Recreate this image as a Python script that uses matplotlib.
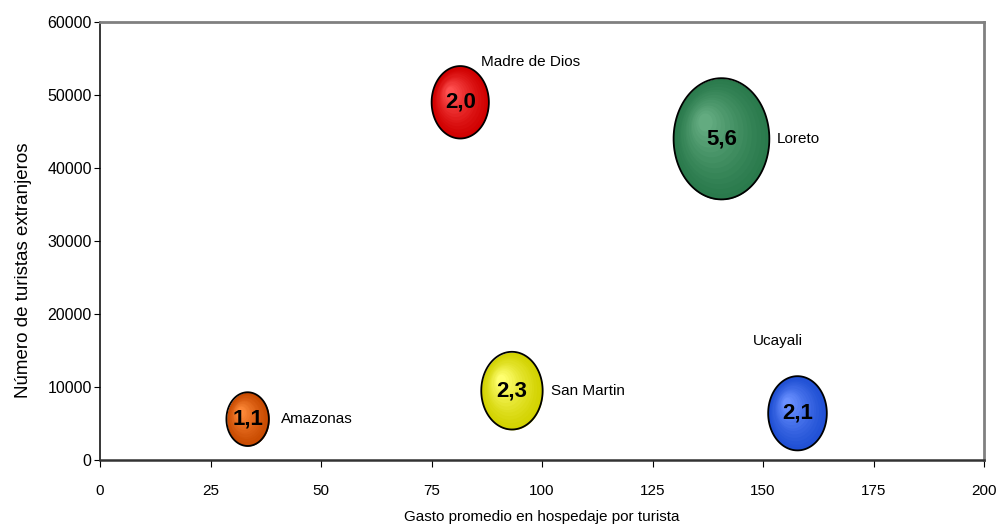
import numpy as np
import matplotlib
matplotlib.use("Agg")
import matplotlib.pyplot as plt
import matplotlib.transforms as mtransforms
from matplotlib.path import Path
from matplotlib.colors import to_rgb

plt.rcParams['font.family'] = ['Liberation Sans', 'DejaVu Sans']

# datos
regiones = ['Amazonas', 'Madre de Dios', 'Loreto', 'San Martin', 'Ucayali']
gasto = [33.4, 81.5, 140.6, 93.2, 157.8]
turistas = [5600, 49000, 44000, 9500, 6400]
indice = [1.1, 2.0, 5.6, 2.3, 2.1]
etiquetas = ['1,1', '2,0', '5,6', '2,3', '2,1']

# estilo
col_oscuro = ['#c84a00', '#d00000', '#2a7a4c', '#d2d200', '#2050d4']
col_claro = ['#ff8a3a', '#ff5050', '#63ab80', '#ffff70', '#6a90ff']
offs_etiq = [(24, 0), (15, 29), (40, 0), (28, 0), (-32, 52)]

# marcador eliptico (las burbujas salen estiradas en vertical)
t = np.linspace(0, 2 * np.pi, 120)
verts = np.column_stack([0.79 * np.cos(t), np.sin(t)])
elipse = Path(verts, closed=True)

fig = plt.figure(figsize=(9.98, 5.31), dpi=100)
ax = fig.add_axes([0.1002, 0.1337, 0.8858, 0.8249])

n = 14
escala = 1360
for i in range(len(regiones)):
    s = escala * indice[i]
    h = np.sqrt(s)
    c0 = np.array(to_rgb(col_oscuro[i]))
    c1 = np.array(to_rgb(col_claro[i]))
    for k in range(n):
        f = 1 - 0.85 * k / (n - 1)
        c = c0 + (c1 - c0) * (k / (n - 1)) ** 1.3
        d = (1 - f) / 0.85 * 0.14 * h
        tr = mtransforms.offset_copy(ax.transData, fig, x=-d, y=d, units='points')
        ax.scatter([gasto[i]], [turistas[i]], s=s * f ** 2, marker=elipse,
                   color=c, linewidths=0, transform=tr, zorder=2 + k * 0.01)
    ax.scatter([gasto[i]], [turistas[i]], s=s, marker=elipse, facecolors='none',
               edgecolors='black', linewidths=1.3, zorder=3)
    ax.text(gasto[i], turistas[i], etiquetas[i], ha='center', va='center',
            fontsize=16, fontweight='bold', zorder=4)
    ax.annotate(regiones[i], (gasto[i], turistas[i]), xytext=offs_etiq[i],
                textcoords='offset points', ha='left', va='center', fontsize=11)

ax.set_xlim(0, 200)
ax.set_ylim(0, 60000)
ax.set_xticks(np.arange(0, 201, 25))
ax.set_yticks(np.arange(0, 60001, 10000))

ax.spines['top'].set_color('#808080')
ax.spines['right'].set_color('#808080')
ax.spines['top'].set_linewidth(2)
ax.spines['right'].set_linewidth(2)
ax.spines['left'].set_linewidth(1.1)
ax.spines['bottom'].set_linewidth(1.8)
ax.spines['bottom'].set_color('#333333')

ax.tick_params(axis='x', direction='out', length=5, pad=12, labelsize=11)
ax.tick_params(axis='y', direction='out', length=4, pad=2, labelsize=11.5)

ax.set_xlabel('Gasto promedio en hospedaje por turista', fontsize=11, labelpad=9)
ax.set_ylabel('Número de turistas extranjeros', fontsize=13.5, labelpad=11)
ax.yaxis.label.set_y(0.434)

fig.savefig('out.png', dpi=100)
